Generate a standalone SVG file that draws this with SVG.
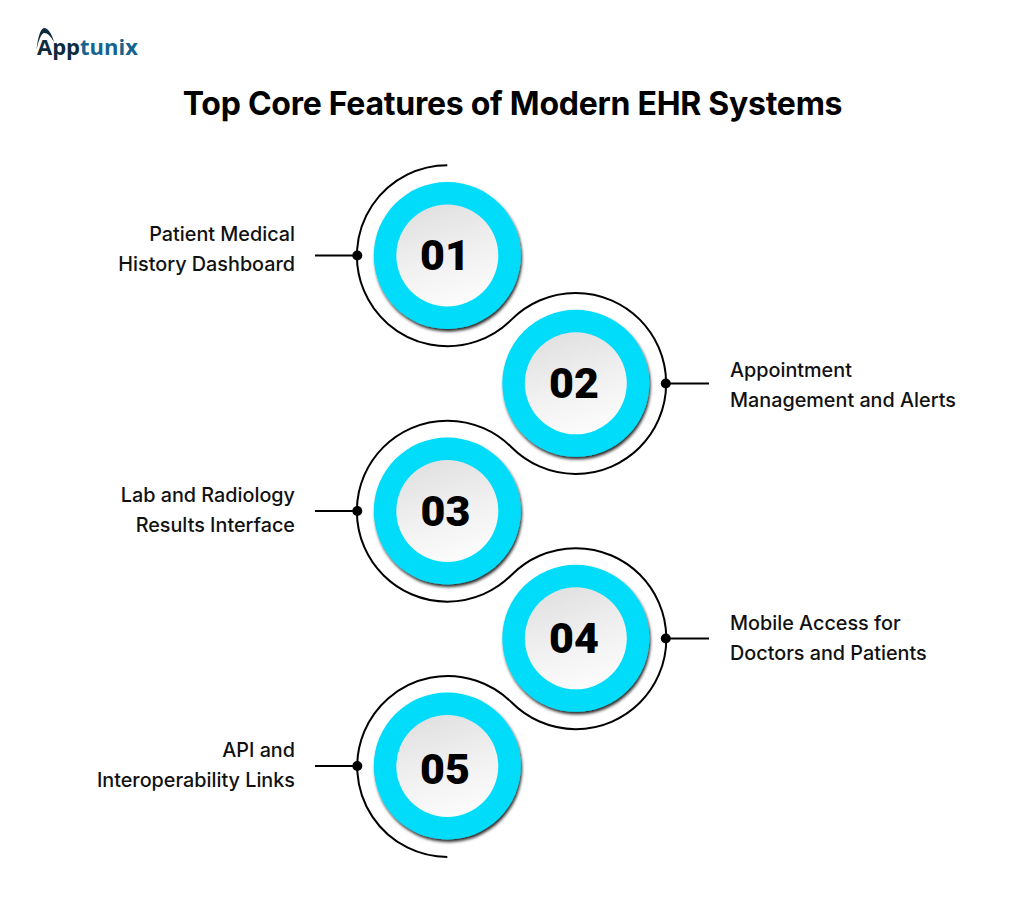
<svg xmlns="http://www.w3.org/2000/svg" width="1024" height="911" viewBox="0 0 1024 911">
<style>
.title{font:700 32px Inter,"Liberation Sans",sans-serif;fill:#000;letter-spacing:-0.26px}
.lbl{font:500 19.8px Inter,"Liberation Sans",sans-serif;fill:#111}
.num{font:900 43px Roboto,"Liberation Sans",sans-serif;fill:#000;text-anchor:middle}
.end{text-anchor:end}
.ring{fill:#00dcf9;filter:url(#sh)}
.core{fill:url(#g)}
.wire{fill:none;stroke:#000;stroke-width:2}
.logo{font:700 22px "Open Sans","Liberation Sans",sans-serif}
</style>
<defs>
<linearGradient id="g" x1="0.3" y1="0" x2="0.6" y2="1"><stop offset="0" stop-color="#e0e0e0"/><stop offset="0.55" stop-color="#f1f1f1"/><stop offset="1" stop-color="#fcfcfc"/></linearGradient>
<filter id="sh" x="-20%" y="-20%" width="140%" height="140%"><feDropShadow dx="1.2" dy="2.5" stdDeviation="1.6" flood-color="#000" flood-opacity="0.85"/></filter>
</defs>
<rect width="1024" height="911" fill="#fff"/>
<g id="logo">
<path d="M36.500 50 C37.500 40 40 28.500 44 28 C48 28 52 34 54 42 C50.500 36 47.500 33 44.500 33 C41 33 38.500 41 36.500 50Z" fill="#0e2a3d"/>
<text class="logo" x="37" y="55" fill="#0e2a3d">App<tspan fill="#14648f">tunix</tspan></text>
</g>
<text class="title" x="512.500" y="115" text-anchor="middle">Top Core Features of Modern EHR Systems</text>
<g id="connectors">
<path class="wire" d="M447.300 165.200 A90.500 90.500 0 1 0 511.500 319.600 A90.500 90.500 0 1 1 511.500 447.300 A90.500 90.500 0 1 0 511.500 575 A90.500 90.500 0 1 1 511.500 702.300 A90.500 90.500 0 1 0 447.300 857"/>
<path class="wire" d="M315 255.500H357M665 383.500H709M315 511H357M665 638.500H709M315 766H357"/>
<circle cx="357.300" cy="255.500" r="5"/><circle cx="665.800" cy="383.500" r="5"/><circle cx="357.300" cy="511" r="5"/><circle cx="665.800" cy="638.500" r="5"/><circle cx="357.300" cy="766" r="5"/>
</g>
<g id="node-01"><circle class="ring" cx="447.300" cy="255.500" r="73.500"/><circle class="core" cx="447.300" cy="255.500" r="51"/><text class="num" x="445" y="270">01</text>
<text class="lbl end" x="295" y="241">Patient Medical</text><text class="lbl end" x="295" y="271">History Dashboard</text></g>
<g id="node-02"><circle class="ring" cx="575.800" cy="383.300" r="73.500"/><circle class="core" cx="575.800" cy="383.300" r="51"/><text class="num" x="574" y="398">02</text>
<text class="lbl" x="730" y="377">Appointment</text><text class="lbl" x="730" y="407">Management and Alerts</text></g>
<g id="node-03"><circle class="ring" cx="447.300" cy="511" r="73.500"/><circle class="core" cx="447.300" cy="511" r="51"/><text class="num" x="445.500" y="526">03</text>
<text class="lbl end" x="295" y="502">Lab and Radiology</text><text class="lbl end" x="295" y="532">Results Interface</text></g>
<g id="node-04"><circle class="ring" cx="575.800" cy="638.300" r="73.500"/><circle class="core" cx="575.800" cy="638.300" r="51"/><text class="num" x="574" y="653">04</text>
<text class="lbl" x="730" y="630">Mobile Access for</text><text class="lbl" x="730" y="660">Doctors and Patients</text></g>
<g id="node-05"><circle class="ring" cx="447.300" cy="766" r="73.500"/><circle class="core" cx="447.300" cy="766" r="51"/><text class="num" x="445" y="784">05</text>
<text class="lbl end" x="295" y="757">API and</text><text class="lbl end" x="295" y="787">Interoperability Links</text></g>
</svg>
